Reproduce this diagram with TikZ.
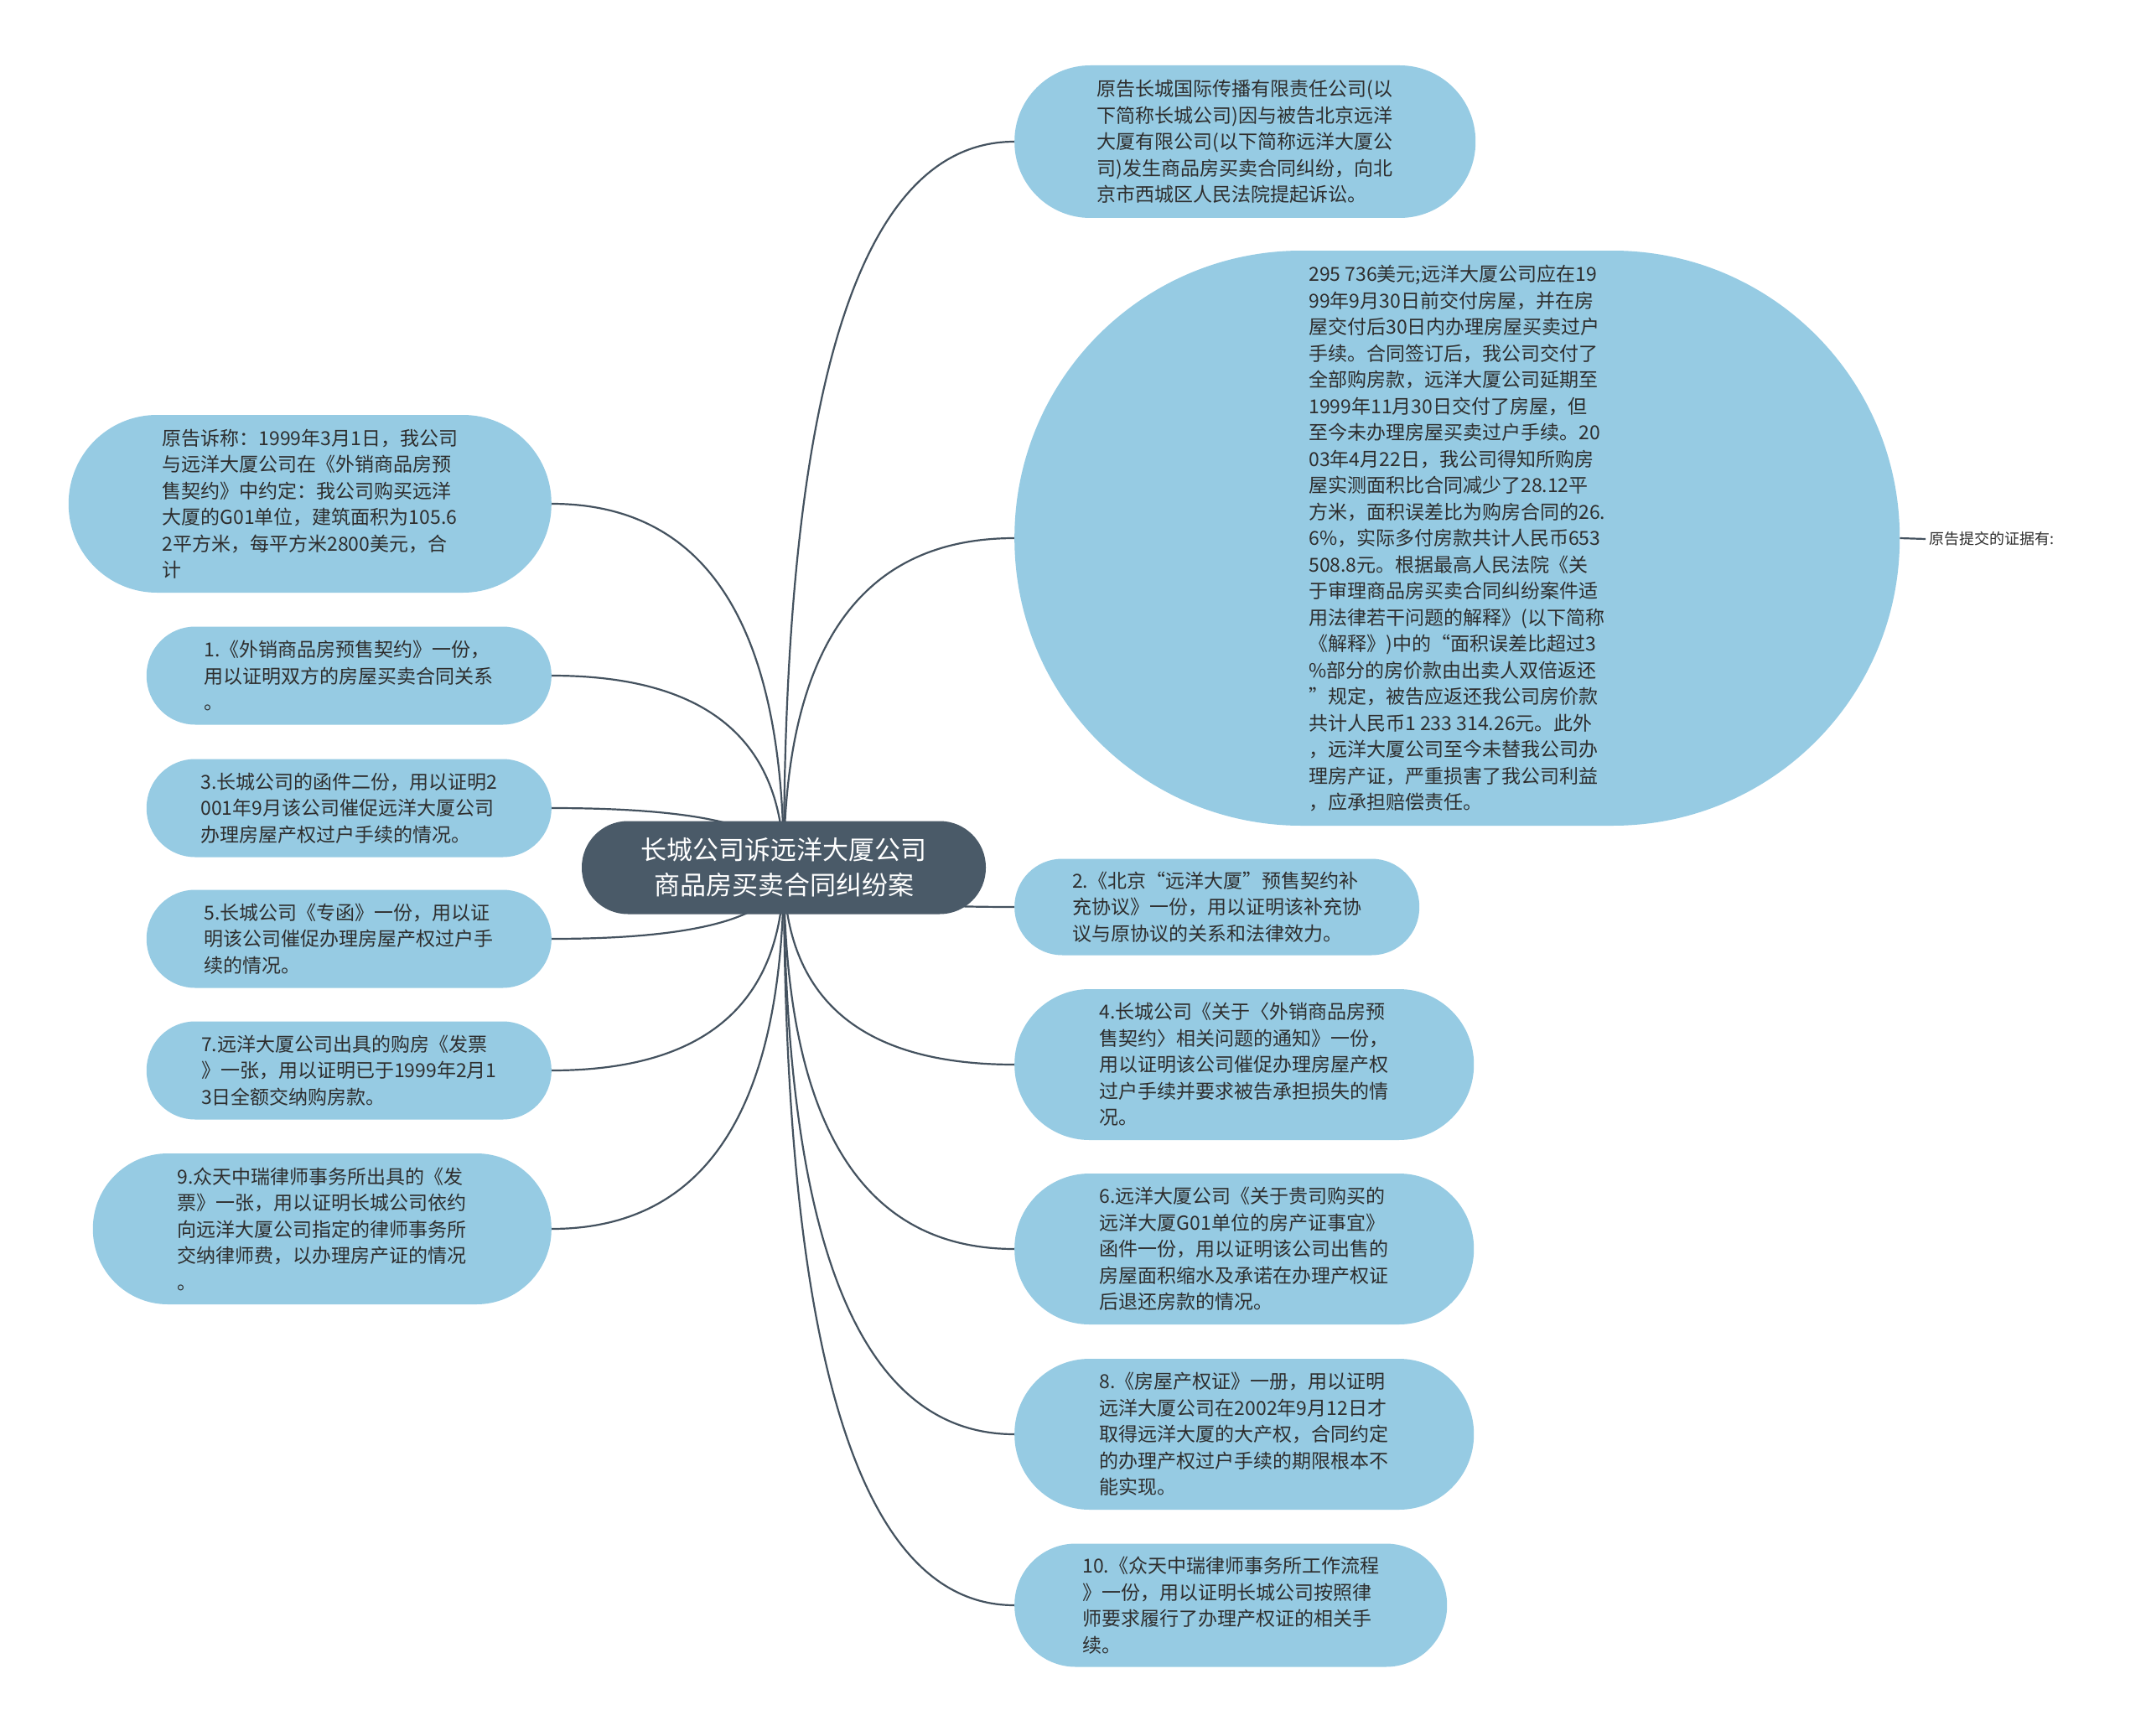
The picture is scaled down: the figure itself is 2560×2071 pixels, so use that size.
\documentclass[tikz,border=0pt]{standalone}
\usepackage{fontspec}
\setmainfont{Noto Sans CJK SC}
\usetikzlibrary{calc,backgrounds}
\definecolor{leafblue}{HTML}{96CBE3}
\definecolor{rootfill}{HTML}{4A5A68}
\definecolor{linec}{HTML}{44525F}
\definecolor{txt}{HTML}{2E2E2E}
\newcommand{\curvelink}[2]{%
  \path (root.center|-#1.#2) coordinate (k#1);
  \draw[conn] (root.center) .. controls ($(root.center)!0.6667!(k#1)$) and ($(#1.#2)!0.6667!(k#1)$) .. (#1.#2);}
\tikzset{
  pill/.style n args={3}{rectangle, fill=leafblue, text=txt, minimum width=#1, minimum height=#2,
    rounded corners=#3, inner sep=0pt, align=left, font=\fontsize{23pt}{31.5pt}\selectfont},
  rootbox/.style={rectangle, fill=rootfill, text=white, minimum width=482pt, minimum height=111pt,
    rounded corners=55pt, inner sep=0pt, align=center, font=\fontsize{31pt}{41.7pt}\selectfont},
  conn/.style={draw=linec, line width=2.2pt},
  lbl/.style={inner sep=4pt, text=txt, font=\fontsize{18pt}{22pt}\selectfont}
}
\begin{document}
\begin{tikzpicture}[x=1pt,y=-1pt]
\useasboundingbox (0,0) rectangle (2560,2071);

\node[rootbox] (root) at (935,1035) {长城公司诉远洋大厦公司\\商品房买卖合同纠纷案};

% right side
\node[pill={550pt}{182pt}{90.5pt}, anchor=west] (R1) at (1210,169) {原告长城国际传播有限责任公司(以\\下简称长城公司)因与被告北京远洋\\大厦有限公司(以下简称远洋大厦公\\司)发生商品房买卖合同纠纷，向北\\京市西城区人民法院提起诉讼。};

\node[pill={1056pt}{686pt}{342.5pt}, anchor=west] (R2) at (1210,642) {295 736美元;远洋大厦公司应在19\\99年9月30日前交付房屋，并在房\\屋交付后30日内办理房屋买卖过户\\手续。合同签订后，我公司交付了\\全部购房款，远洋大厦公司延期至\\1999年11月30日交付了房屋，但\\至今未办理房屋买卖过户手续。20\\03年4月22日，我公司得知所购房\\屋实测面积比合同减少了28.12平\\方米，面积误差比为购房合同的26.\\6\%，实际多付房款共计人民币653\\508.8元。根据最高人民法院《关\\于审理商品房买卖合同纠纷案件适\\用法律若干问题的解释》(以下简称\\《解释》)中的“面积误差比超过3\\\%部分的房价款由出卖人双倍返还\\”规定，被告应返还我公司房价款\\共计人民币1 233 314.26元。此外\\，远洋大厦公司至今未替我公司办\\理房产证，严重损害了我公司利益\\，应承担赔偿责任。};

\node[lbl, anchor=west] (lab) at (2297,643) {原告提交的证据有:};

\node[pill={483pt}{115pt}{57pt}, anchor=west] (R3) at (1210,1082) {2.《北京“远洋大厦”预售契约补\\充协议》一份，用以证明该补充协\\议与原协议的关系和法律效力。};

\node[pill={548pt}{180pt}{89.5pt}, anchor=west] (R4) at (1210,1270) {4.长城公司《关于〈外销商品房预\\售契约〉相关问题的通知》一份，\\用以证明该公司催促办理房屋产权\\过户手续并要求被告承担损失的情\\况。};

\node[pill={548pt}{180pt}{89.5pt}, anchor=west] (R5) at (1210,1490) {6.远洋大厦公司《关于贵司购买的\\远洋大厦G01单位的房产证事宜》\\函件一份，用以证明该公司出售的\\房屋面积缩水及承诺在办理产权证\\后退还房款的情况。};

\node[pill={548pt}{180pt}{89.5pt}, anchor=west] (R6) at (1210,1711) {8.《房屋产权证》一册，用以证明\\远洋大厦公司在2002年9月12日才\\取得远洋大厦的大产权，合同约定\\的办理产权过户手续的期限根本不\\能实现。};

\node[pill={516pt}{147pt}{73pt}, anchor=west] (R7) at (1210,1915) {10.《众天中瑞律师事务所工作流程\\》一份，用以证明长城公司按照律\\师要求履行了办理产权证的相关手\\续。};

% left side
\node[pill={576pt}{212pt}{105.5pt}, anchor=east] (L1) at (658,601) {原告诉称：1999年3月1日，我公司\\与远洋大厦公司在《外销商品房预\\售契约》中约定：我公司购买远洋\\大厦的G01单位，建筑面积为105.6\\2平方米，每平方米2800美元，合\\计};

\node[pill={483pt}{117pt}{58pt}, anchor=east] (L2) at (658,806) {1.《外销商品房预售契约》一份，\\用以证明双方的房屋买卖合同关系\\。};

\node[pill={483pt}{117pt}{58pt}, anchor=east] (L3) at (658,964) {3.长城公司的函件二份，用以证明2\\001年9月该公司催促远洋大厦公司\\办理房屋产权过户手续的情况。};

\node[pill={483pt}{117pt}{58pt}, anchor=east] (L4) at (658,1120) {5.长城公司《专函》一份，用以证\\明该公司催促办理房屋产权过户手\\续的情况。};

\node[pill={483pt}{117pt}{58pt}, anchor=east] (L5) at (658,1277) {7.远洋大厦公司出具的购房《发票\\》一张，用以证明已于1999年2月1\\3日全额交纳购房款。};

\node[pill={547pt}{180pt}{89.5pt}, anchor=east] (L6) at (658,1466) {9.众天中瑞律师事务所出具的《发\\票》一张，用以证明长城公司依约\\向远洋大厦公司指定的律师事务所\\交纳律师费，以办理房产证的情况\\。};

\begin{pgfonlayer}{background}
\fill[white] (0,0) rectangle (2560,2071);
\curvelink{R1}{west}
\curvelink{R2}{west}
\curvelink{R3}{west}
\curvelink{R4}{west}
\curvelink{R5}{west}
\curvelink{R6}{west}
\curvelink{R7}{west}
\curvelink{L1}{east}
\curvelink{L2}{east}
\curvelink{L3}{east}
\curvelink{L4}{east}
\curvelink{L5}{east}
\curvelink{L6}{east}
\draw[conn] (R2.east) -- (lab.west);
\end{pgfonlayer}
\end{tikzpicture}
\end{document}
